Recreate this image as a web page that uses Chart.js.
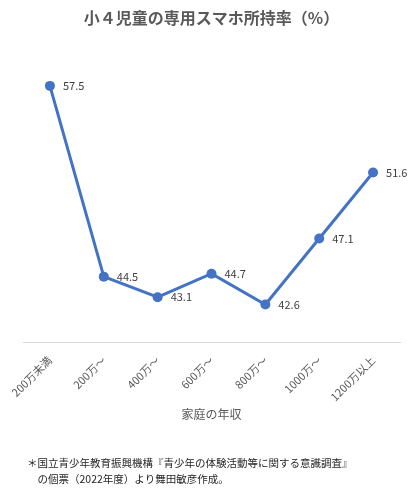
<!DOCTYPE html>
<html>
<head>
<meta charset="utf-8">
<script src="https://cdn.jsdelivr.net/npm/chart.js@4"></script>
<style>
  html, body { margin: 0; padding: 0; background: #fff; }
  #wrap { width: 418px; height: 497px; }
</style>
</head>
<body>
<div id="wrap"><canvas id="chart"></canvas></div>
<script>
// --- data --- //
const incomeLabels = ["200万未満", "200万～", "400万～", "600万～", "800万～", "1000万～", "1200万以上"];
const phoneRates = [57.5, 44.5, 43.1, 44.7, 42.6, 47.1, 51.6];
const footnoteLines = [
    "＊国立青少年教育振興機構『青少年の体験活動等に関する意識調査』",
    "　の個票（2022年度）より舞田敏彦作成。"
];

const jpFont = '"Noto Sans CJK JP", "Noto Sans", sans-serif';

// draw value next to each point
const valueLabels = {
    id: 'valueLabels',
    afterDatasetsDraw(chart) {
        const ctx = chart.ctx;
        const meta = chart.getDatasetMeta(0);
        ctx.save();
        ctx.font = '11px ' + jpFont;
        ctx.fillStyle = '#404040';
        ctx.textAlign = 'left';
        ctx.textBaseline = 'middle';
        meta.data.forEach((pt, i) => {
            ctx.fillText(phoneRates[i].toFixed(1), pt.x + 13, pt.y);
        });
        ctx.restore();
    }
};

// footnote at the bottom left
const footnote = {
    id: 'footnote',
    afterDraw(chart) {
        const ctx = chart.ctx;
        ctx.save();
        ctx.font = '10.5px ' + jpFont;
        ctx.fillStyle = '#262626';
        ctx.textAlign = 'left';
        ctx.textBaseline = 'middle';
        footnoteLines.forEach((line, i) => {
            ctx.fillText(line, 27, 463 + i * 16);
        });
        ctx.restore();
    }
};

const ctx = document.getElementById('chart');

let rateChart = new Chart(ctx, {
    type: 'line',
    data: {
        labels: incomeLabels,
        datasets: [{
            data: phoneRates,
            borderColor: '#4472C4',
            backgroundColor: '#4472C4',
            borderWidth: 3,
            pointRadius: 5,
            pointBorderWidth: 0,
            tension: 0
        }]
    },
    options: {
        responsive: true,
        maintainAspectRatio: false,
        animation: false,
        layout: {
            padding: { left: 23, right: 18, top: 0, bottom: 75 }
        },
        scales: {
            y: {
                display: false,
                min: 40,
                max: 60
            },
            x: {
                offset: true,
                // keep the plot width fixed regardless of rotated labels
                afterFit: scale => {
                    scale.paddingLeft = 0;
                    scale.paddingRight = 0;
                },
                grid: { display: false },
                border: { display: true, color: '#d9d9d9', width: 1 },
                ticks: {
                    maxRotation: 45,
                    minRotation: 45,
                    color: '#595959',
                    font: { size: 11, family: jpFont }
                },
                title: {
                    display: true,
                    text: '家庭の年収',
                    color: '#595959',
                    font: { size: 12, family: jpFont },
                    padding: { top: 1, bottom: 0 }
                }
            }
        },
        plugins: {
            legend: { display: false },
            tooltip: { enabled: false },
            title: {
                display: true,
                text: '小４児童の専用スマホ所持率（%）',
                color: '#595959',
                font: { size: 16, weight: 'bold', family: jpFont },
                padding: { top: 8, bottom: 22 }
            }
        }
    },
    plugins: [valueLabels, footnote]
});
</script>
</body>
</html>
